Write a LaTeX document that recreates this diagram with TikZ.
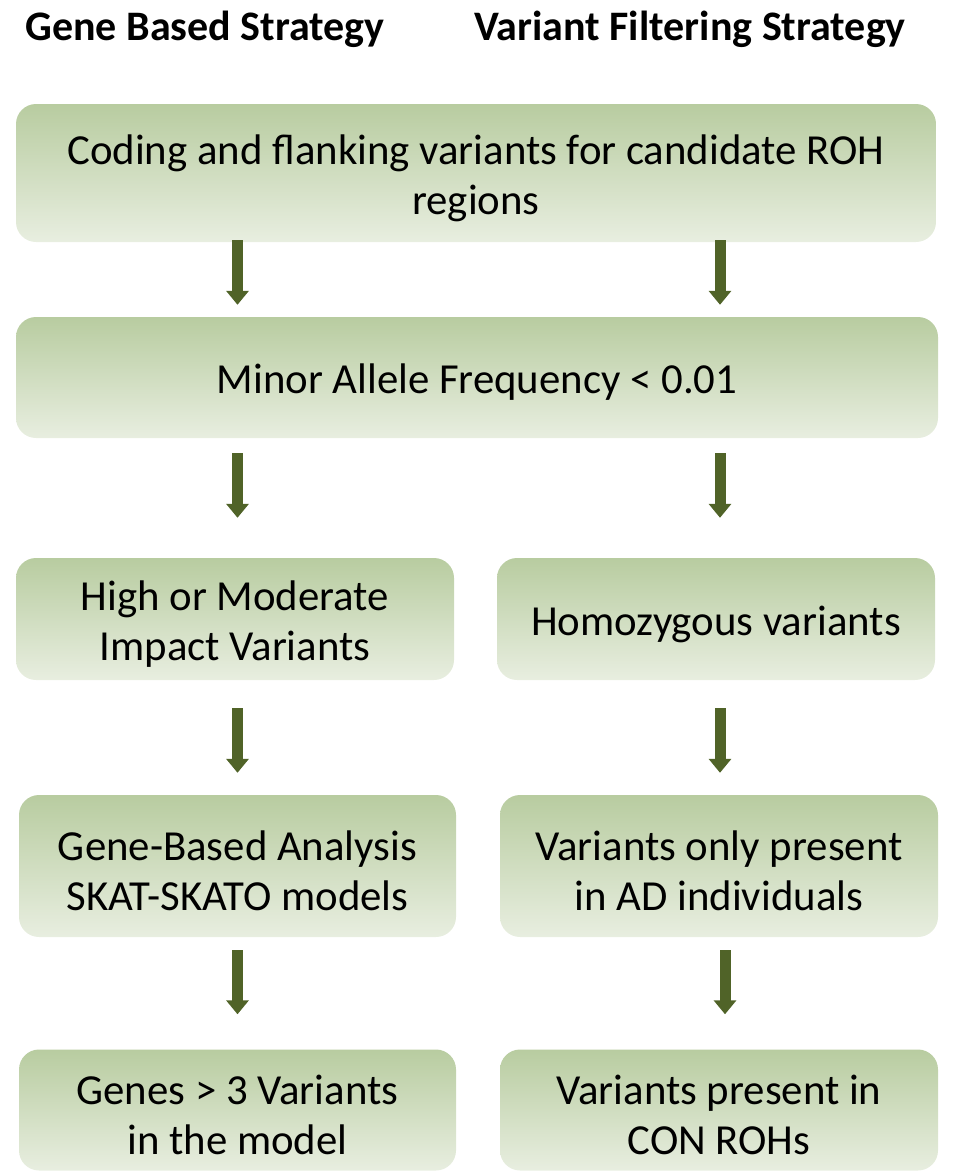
\documentclass[tikz,border=0pt]{standalone}
\usepackage{fontspec}
\setmainfont{Carlito}
\usetikzlibrary{arrows.meta}
\definecolor{gtop}{RGB}{184,204,160}
\definecolor{gbot}{RGB}{232,238,224}
\definecolor{arrc}{RGB}{80,99,40}
\newcommand\dn[1]{\raisebox{-5pt}[\height][\depth]{#1}}
\tikzset{
  box/.style={rounded corners=20pt, top color=gtop, bottom color=gbot, draw=none,
    align=center, inner sep=0pt, font=\fontsize{42.8}{50}\selectfont},
  hdr/.style={font=\bfseries\fontsize{42}{48}\selectfont, inner sep=0pt},
  arr/.style={draw=arrc, line width=11pt, -{Triangle[width=22pt,length=14pt]}}
}
\begin{document}
\begin{tikzpicture}[x=1pt,y=-1pt]
\useasboundingbox (0,0) rectangle (964,1172);
\node[hdr] (h1) at (205,29) {Gene Based Strategy};
\node[hdr] (h2) at (690,29) {Variant Filtering Strategy};

\node[box, minimum width=920pt, minimum height=138pt] (b1) at (476,173)
  {\dn{Coding and flanking variants for candidate ROH}\\\dn{regions}};
\node[box, minimum width=922pt, minimum height=121pt] (b2) at (477,377.5)
  {\dn{Minor Allele Frequency < 0.01}};
\node[box, minimum width=438pt, minimum height=122pt] (l3) at (235,619)
  {\dn{High or Moderate}\\\dn{Impact Variants}};
\node[box, minimum width=438pt, minimum height=122pt] (r3) at (716,619)
  {\dn{Homozygous variants}};
\node[box, minimum width=437pt, minimum height=142pt] (l4) at (237.5,866)
  {\dn{Gene-Based Analysis}\\\dn{SKAT-SKATO models}};
\node[box, minimum width=438pt, minimum height=142pt] (r4) at (719,866)
  {\dn{Variants only present}\\\dn{in AD individuals}};
\node[box, minimum width=437pt, minimum height=121pt] (l5) at (237.5,1110)
  {\dn{Genes > 3 Variants}\\\dn{in the model}};
\node[box, minimum width=438pt, minimum height=121pt] (r5) at (719,1110)
  {\dn{Variants present in}\\\dn{CON ROHs}};

\coordinate (cl) at (237.5,0);
\coordinate (cr) at (720,0);
\coordinate (cr4) at (725,0);

\draw[arr, shorten <=-2pt, shorten >=12pt] (b1.south -| cl) -- (b2.north -| cl);
\draw[arr, shorten <=-2pt, shorten >=12pt] (b1.south -| cr) -- (b2.north -| cr);
\draw[arr, shorten <=15pt, shorten >=40pt] (b2.south -| cl) -- (l3.north -| cl);
\draw[arr, shorten <=15pt, shorten >=40pt] (b2.south -| cr) -- (r3.north -| cr);
\draw[arr, shorten <=28pt, shorten >=22pt] (l3.south -| cl) -- (l4.north -| cl);
\draw[arr, shorten <=28pt, shorten >=22pt] (r3.south -| cr) -- (r4.north -| cr);
\draw[arr, shorten <=13pt, shorten >=35pt] (l4.south -| cl) -- (l5.north -| cl);
\draw[arr, shorten <=13pt, shorten >=35pt] (r4.south -| cr4) -- (r5.north -| cr4);
\end{tikzpicture}
\end{document}
